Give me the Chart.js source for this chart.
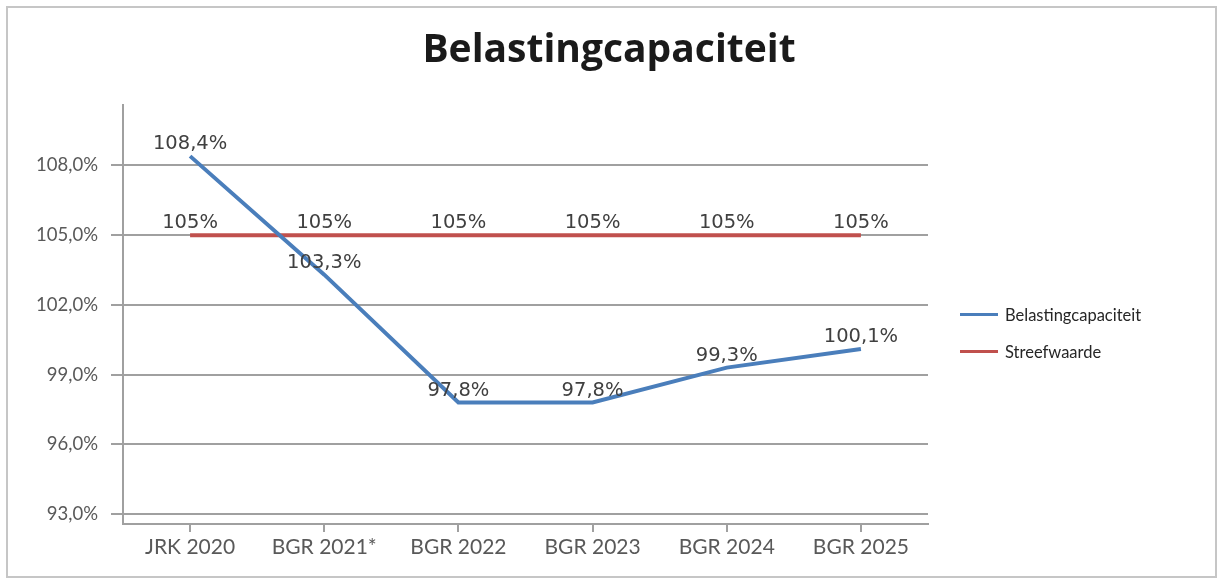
<!DOCTYPE html>
<html><head><meta charset="utf-8">
<script src="https://cdn.jsdelivr.net/npm/chart.js@4.4.1/dist/chart.umd.min.js"></script>
<style>
html,body{margin:0;padding:0;background:#fff;}
#wrap{position:relative;width:1218px;height:579px;overflow:hidden;background:#fff;}
#frame{position:absolute;left:6px;top:6px;width:1211px;height:572px;box-sizing:border-box;border:2px solid #c6c6c6;pointer-events:none;}
canvas{position:absolute;left:0;top:0;}
#legend{position:absolute;left:960px;top:296px;font-family:Lato,sans-serif;font-size:16.5px;color:#262626;}
.item{display:flex;align-items:center;height:37px;}
.swatch{width:38px;height:3px;margin-right:7px;}
</style></head>
<body><div id="wrap"><canvas id="c" width="1218" height="579"></canvas><div id="frame"></div><div id="legend"></div></div>
<script>
const categories = ['JRK 2020', 'BGR 2021*', 'BGR 2022', 'BGR 2023', 'BGR 2024', 'BGR 2025'];
const belastingcapaciteit = [108.4, 103.3, 97.8, 97.8, 99.3, 100.1];
const streefwaarde = [105, 105, 105, 105, 105, 105];
const yTicks = [93, 96, 99, 102, 105, 108];
const seriesNames = ['Belastingcapaciteit', 'Streefwaarde'];
const seriesColors = ['#4a7ebb', '#c0504d'];
const labelDecimals = [1, 0];

function nl(v, d) { return v.toFixed(d).replace('.', ',') + '%'; }

const valueLabels = {
  id: 'valueLabels',
  afterDatasetsDraw(chart) {
    const ctx = chart.ctx;
    ctx.save();
    ctx.font = '19.5px "DejaVu Sans"';
    ctx.fillStyle = '#404040';
    ctx.textAlign = 'center';
    ctx.textBaseline = 'middle';
    chart.data.datasets.forEach((ds, i) => {
      const meta = chart.getDatasetMeta(i);
      meta.data.forEach((pt, j) => {
        ctx.fillText(nl(ds.data[j], labelDecimals[i]), pt.x, pt.y - 12);
      });
    });
    ctx.restore();
  }
};

const chart = new Chart(document.getElementById('c'), {
  type: 'line',
  data: {
    labels: categories,
    datasets: [
      { label: seriesNames[0], data: belastingcapaciteit, borderColor: seriesColors[0], backgroundColor: seriesColors[0], borderWidth: 4, pointRadius: 0, tension: 0, fill: false },
      { label: seriesNames[1], data: streefwaarde, borderColor: seriesColors[1], backgroundColor: seriesColors[1], borderWidth: 4, pointRadius: 0, tension: 0, fill: false }
    ]
  },
  options: {
    responsive: false,
    animation: false,
    devicePixelRatio: 1,
    layout: { padding: 0 },
    plugins: {
      legend: { display: false },
      tooltip: { enabled: false },
      title: {
        display: true, text: 'Belastingcapaciteit', color: '#1a1a1a',
        font: { family: 'Open Sans', size: 39, weight: 'bold', lineHeight: 1.2 },
        padding: { top: 27, bottom: 31.2 }
      }
    },
    scales: {
      x: {
        offset: true,
        grid: { display: true, drawOnChartArea: false, drawTicks: true, tickLength: 8, color: '#a0a0a0', lineWidth: 2 },
        border: { display: true, color: '#a0a0a0', width: 2 },
        ticks: { color: '#595959', font: { family: 'Lato', size: 21 }, padding: 3, maxRotation: 0, autoSkip: false },
        afterFit(s) { s.height = 55; }
      },
      y: {
        min: 92.57, max: 110.6,
        afterBuildTicks(s) { s.ticks = yTicks.map(v => ({ value: v })); },
        grid: { color: '#a0a0a0', lineWidth: 2, tickLength: 12 },
        border: { display: true, color: '#a0a0a0', width: 2 },
        ticks: { color: '#595959', font: { family: 'Lato', size: 18.5 }, padding: 13, callback: v => nl(v, 1) },
        afterFit(s) { s.width = 123; }
      },
      legendSpace: {
        position: 'right', display: true,
        grid: { display: false, drawTicks: false }, border: { display: false },
        ticks: { display: false },
        afterFit(s) { s.width = 290; }
      }
    }
  },
  plugins: [valueLabels]
});

const legend = document.getElementById('legend');
seriesNames.forEach((n, i) => {
  const it = document.createElement('div'); it.className = 'item';
  const sw = document.createElement('span'); sw.className = 'swatch'; sw.style.background = seriesColors[i];
  const tx = document.createElement('span'); tx.textContent = n;
  it.appendChild(sw); it.appendChild(tx); legend.appendChild(it);
});
</script>
</body></html>
